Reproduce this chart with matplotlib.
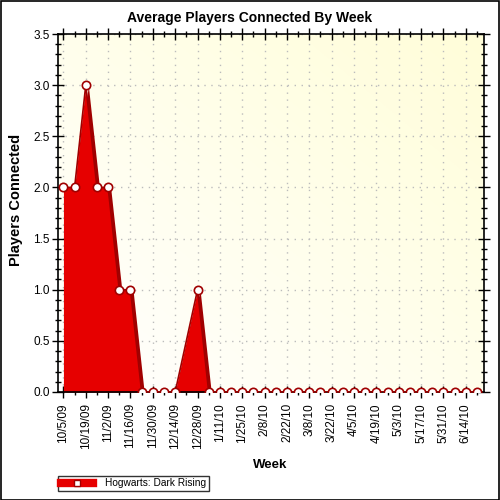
import matplotlib
matplotlib.use("Agg")
import matplotlib.pyplot as plt
import matplotlib.dates as mdates
import matplotlib.transforms as mtransforms
from matplotlib.ticker import MultipleLocator, FuncFormatter
from matplotlib.lines import Line2D
from matplotlib.patches import Rectangle
import numpy as np
import pandas as pd

# weekly average, 12/21/09 has no data point
weeks = ["2009-10-05", "2009-10-12", "2009-10-19", "2009-10-26", "2009-11-02",
         "2009-11-09", "2009-11-16", "2009-11-23", "2009-11-30", "2009-12-07",
         "2009-12-14", "2009-12-28", "2010-01-04", "2010-01-11", "2010-01-18",
         "2010-01-25", "2010-02-01", "2010-02-08", "2010-02-15", "2010-02-22",
         "2010-03-01", "2010-03-08", "2010-03-15", "2010-03-22", "2010-03-29",
         "2010-04-05", "2010-04-12", "2010-04-19", "2010-04-26", "2010-05-03",
         "2010-05-10", "2010-05-17", "2010-05-24", "2010-05-31", "2010-06-07",
         "2010-06-14", "2010-06-21"]
players = [2, 2, 3, 2, 2, 1, 1, 0, 0, 0, 0, 1, 0, 0, 0, 0, 0, 0, 0, 0, 0, 0, 0,
           0, 0, 0, 0, 0, 0, 0, 0, 0, 0, 0, 0, 0, 0]
series_name = "Hogwarts: Dark Rising"

plt.rcParams['font.family'] = ['Liberation Sans', 'DejaVu Sans']

dates = pd.to_datetime(weeks)
fig = plt.figure(figsize=(5, 5), dpi=100)
ax = fig.add_axes([0.116, 0.216, 0.852, 0.716])

# pale yellow gradient background
gx, gy = np.meshgrid(np.linspace(0, 1, 200), np.linspace(0, 1, 200))
g = np.clip((gx + gy) / 2.0, 0, 1)
bg = np.ones((200, 200, 3))
bg[..., 2] = 1.0 - 0.15 * g
bg[..., 1] = 1.0 - 0.005 * g
ax.imshow(bg, extent=[0, 1, 0, 1], transform=ax.transAxes, origin='lower',
          aspect='auto', zorder=0)

red = '#E60000'
dark = '#A00000'
shift = mtransforms.offset_copy(ax.transData, fig=fig, x=2.5, y=0, units='dots')
ax.fill_between(dates, players, 0, color=dark, lw=0, zorder=2, transform=shift)
ax.fill_between(dates, players, 0, color=red, lw=0, zorder=2)
ax.plot(dates, players, color=dark, lw=1.2, zorder=3)
ax.plot(dates, players, ls='none', marker='o', ms=6, mfc='white', mec=dark,
        mew=1.2, zorder=4)

ax.set_ylim(0, 3.5)
ax.set_xlim(dates[0] - pd.Timedelta(days=3.4), dates[-1] + pd.Timedelta(days=4.4))

ax.yaxis.set_major_locator(MultipleLocator(0.5))
ax.yaxis.set_minor_locator(MultipleLocator(0.1))
ax.yaxis.set_major_formatter(FuncFormatter(lambda v, p: f"{v:.1f}"))

major_days = pd.date_range("2009-10-05", "2010-06-14", freq="14D")
minor_days = pd.date_range("2009-10-12", "2010-06-21", freq="14D")
ax.set_xticks(mdates.date2num(major_days))
ax.set_xticks(mdates.date2num(minor_days), minor=True)
ax.set_xticklabels([f"{d.month}/{d.day}/{d.strftime('%y')}" for d in major_days],
                   rotation=90)

ax.tick_params(axis='both', which='major', direction='inout', length=8, width=1,
               labelsize=8.5, top=True, right=True, pad=2)
ax.tick_params(axis='both', which='minor', direction='inout', length=4, width=1,
               top=True, right=True)
ax.tick_params(axis='x', which='major', pad=4)

ax.grid(True, which='major', color='#bcbcbc', ls=(0, (1, 4)), lw=1, zorder=1)
ax.set_axisbelow(True)
for s in ax.spines.values():
    s.set_linewidth(1.2)

fig.text(0.5, 0.964, "Average Players Connected By Week", ha='center', va='center',
         fontsize=10, fontweight='bold')
fig.text(0.032, 0.6, "Players Connected", ha='center', va='center', rotation=90,
         fontsize=10.5, fontweight='bold')
fig.text(0.54, 0.07, "Week", ha='center', va='center', fontsize=9.5, fontweight='bold')

handle = Line2D([0], [0], color=red, lw=6, marker='s', ms=5, mfc='white', mec=dark)
leg = fig.legend([handle], [series_name], loc='lower left',
                 bbox_to_anchor=(0.116, 0.018), fontsize=7.3, frameon=True,
                 fancybox=False, borderpad=0.25, handlelength=3.2,
                 handletextpad=1.2, borderaxespad=0)
leg.get_frame().set_edgecolor('black')
leg.get_frame().set_linewidth(1)

fig.patches.append(Rectangle((0.001, 0.001), 0.997, 0.997, transform=fig.transFigure,
                             fill=False, edgecolor='black', lw=1.2))

fig.savefig("out.png", dpi=100)
